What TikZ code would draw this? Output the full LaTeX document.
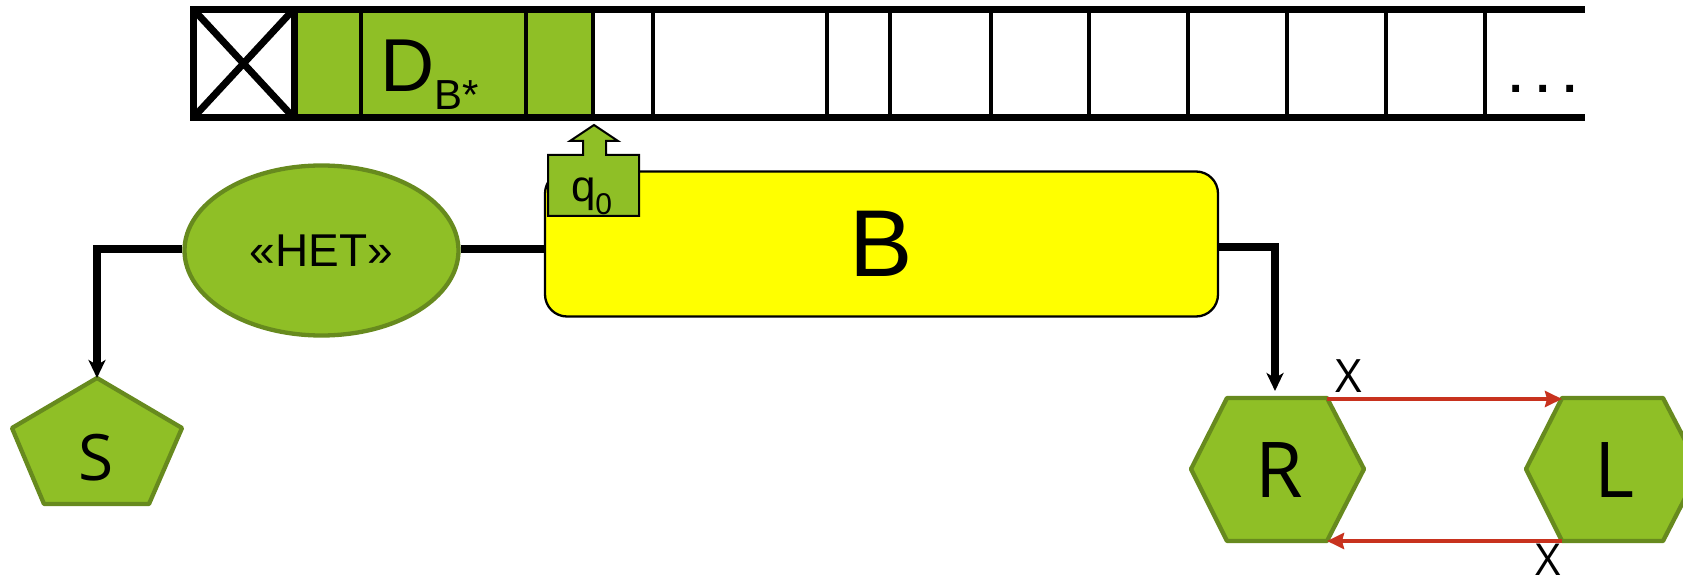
\documentclass[tikz,border=0pt]{standalone}
\usepackage{fontspec}
\setmainfont{Liberation Sans}
\newfontfamily\osans{Open Sans}
\usetikzlibrary{arrows.meta,shapes.geometric,calc}
\definecolor{gfill}{RGB}{143,191,38}
\definecolor{gdraw}{RGB}{103,138,30}
\definecolor{xred}{RGB}{200,50,30}
\definecolor{byellow}{RGB}{255,255,0}
\tikzset{
  shapeg/.style={fill=gfill, draw=gdraw, line width=4.3pt, line join=round},
  conn/.style={line width=7.5pt, -{Stealth[length=18pt,width=17pt,inset=5pt]}},
  redarr/.style={draw=xred, line width=4.5pt, -{Stealth[length=17pt,width=16pt,inset=2pt]}},
  tapethick/.style={line width=7pt},
  tapethin/.style={line width=3.5pt},
  lbl/.style={inner sep=0pt, outer sep=0pt},
}
\frenchspacing
\begin{document}
\begin{tikzpicture}[x=1pt,y=-1pt]
\clip (0,0) rectangle (1683,585);
% tape
\fill[gfill] (294,9) rectangle (593,118);
\foreach \x in {361,526,593,653,827,890,991,1089,1188,1287,1386,1485}
  \draw[tapethin] (\x,9) -- (\x,118);
\draw[tapethick, line cap=rect] (193,9.5) -- (193,118);
\draw[tapethick] (294,9) -- (294,118);
\draw[tapethick] (193,9) -- (294,118) (294,9) -- (193,118);
\draw[tapethick] (193,9.5) -- (1585,9.5) (193,118) -- (1585,118);
\node[lbl, anchor=base west] (D) at (380,92)
  {\fontsize{75}{75}\selectfont D\raisebox{-18pt}{\fontsize{42}{42}\selectfont B*}};
\node[lbl, anchor=base] (dots) at (1543,93) {\fontsize{48}{48}\selectfont\bfseries . . .};
% ellipse
\node[shapeg, ellipse, minimum width=274pt, minimum height=170pt, inner sep=0pt]
  (het) at (321.5,250.5) {\fontsize{46}{46}\selectfont «HET»};
% S pentagon
\draw[shapeg] (97,378) -- (182,428) -- (149,504) -- (44,504) -- (12,428) -- cycle;
\coordinate (Stop) at (97,378);
\node[lbl] (S) at (96,458) {\osans\fontsize{64}{64}\selectfont S};
% connectors left
\draw[conn] ([yshift=1.5pt]het.west) -| (Stop);
\draw[line width=7.5pt] ([yshift=1.5pt]het.east) -- ([yshift=1.5pt]het.east -| 547,0);
% B box
\node[draw, fill=byellow, line width=2.3pt, rounded corners=22pt,
  minimum width=673pt, minimum height=145pt, inner sep=0pt]
  (B) at (881.5,244) {\fontsize{95}{95}\selectfont B};
% head pointer
\draw[fill=gfill, line width=2pt, line join=miter]
  (548,155) -- (583,155) -- (583,141) -- (570,141) -- (594,125) -- (618,141)
  -- (606,141) -- (606,155) -- (639,155) -- (639,216) -- (548,216) -- cycle;
\node[lbl, anchor=base west] (q) at (571,202)
  {\fontsize{44}{44}\selectfont q\raisebox{-13pt}{\fontsize{30}{30}\selectfont 0}};
% R and L hexagons
\draw[shapeg] (1191,469) -- (1227,398) -- (1327,398) -- (1364,469) -- (1327,541) -- (1227,541) -- cycle;
\draw[shapeg] (1526,469) -- (1562,398) -- (1663,398) -- (1700,469) -- (1663,541) -- (1562,541) -- cycle;
\coordinate (Rtop) at (1275,398);
\coordinate (Rtr) at (1327,399);
\coordinate (Rbr) at (1327,541);
\coordinate (Ltl) at (1562,399);
\coordinate (Lbl) at (1562,541);
\node[lbl] (R) at (1279,470) {\osans\fontsize{77}{77}\selectfont R};
\node[lbl] (L) at (1614,470) {\osans\fontsize{77}{77}\selectfont L};
% connector B -> R
\draw[conn, shorten >=7pt] ([yshift=-3pt]B.east) -| (Rtop);
% red arrows
\draw[redarr] (Rtr) -- (Ltl);
\draw[redarr] (Lbl) -- (Rbr);
\node[lbl] (xtop) at (1349,376) {\osans\fontsize{46}{46}\selectfont X};
\node[lbl] (xbot) at (1548,560) {\osans\fontsize{44}{44}\selectfont X};
\end{tikzpicture}
\end{document}
